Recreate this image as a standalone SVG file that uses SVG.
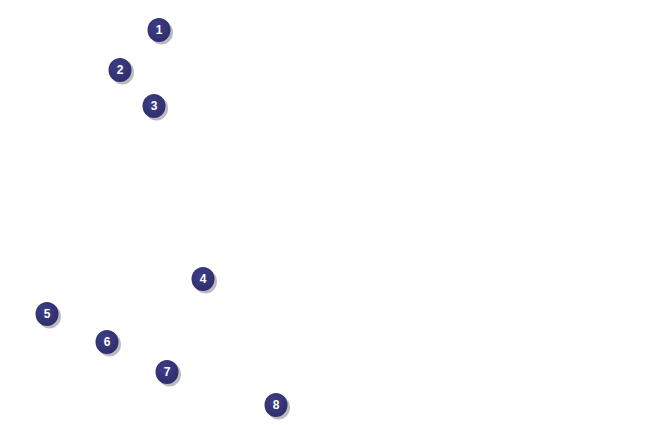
<svg xmlns="http://www.w3.org/2000/svg" width="650" height="425" viewBox="0 0 650 425">
<defs>
<radialGradient id="g" cx="0.4" cy="0.35" r="0.7">
<stop offset="0" stop-color="#3d3d85"/>
<stop offset="1" stop-color="#2e2e6c"/>
</radialGradient>
</defs>
<style>
.sh{fill:#a9a9b0;opacity:0.8}
.b{fill:url(#g)}
.t{fill:#ffffff;font-family:"Liberation Sans",Arial,sans-serif;font-weight:bold;font-size:12px;text-anchor:middle}
</style>
<rect width="650" height="425" fill="#ffffff"/>
<g id="connectors"></g>
<g id="n1"><ellipse class="sh" cx="161.5" cy="32.5" rx="11.5" ry="12"/><ellipse class="b" cx="159" cy="30" rx="11.5" ry="12"/><text class="t" x="159" y="34.3">1</text></g>
<g id="n2"><ellipse class="sh" cx="122.5" cy="72.5" rx="11.5" ry="12"/><ellipse class="b" cx="120" cy="70" rx="11.5" ry="12"/><text class="t" x="120" y="74.3">2</text></g>
<g id="n3"><ellipse class="sh" cx="156.5" cy="108.5" rx="11.5" ry="12"/><ellipse class="b" cx="154" cy="106" rx="11.5" ry="12"/><text class="t" x="154" y="110.3">3</text></g>
<g id="n4"><ellipse class="sh" cx="205.5" cy="281.5" rx="11.5" ry="12"/><ellipse class="b" cx="203" cy="279" rx="11.5" ry="12"/><text class="t" x="203" y="283.3">4</text></g>
<g id="n5"><ellipse class="sh" cx="49.5" cy="316.5" rx="11.5" ry="12"/><ellipse class="b" cx="47" cy="314" rx="11.5" ry="12"/><text class="t" x="47" y="318.3">5</text></g>
<g id="n6"><ellipse class="sh" cx="109.5" cy="344.5" rx="11.5" ry="12"/><ellipse class="b" cx="107" cy="342" rx="11.5" ry="12"/><text class="t" x="107" y="346.3">6</text></g>
<g id="n7"><ellipse class="sh" cx="169.5" cy="374.5" rx="11.5" ry="12"/><ellipse class="b" cx="167" cy="372" rx="11.5" ry="12"/><text class="t" x="167" y="376.3">7</text></g>
<g id="n8"><ellipse class="sh" cx="278.5" cy="407.5" rx="11.5" ry="12"/><ellipse class="b" cx="276" cy="405" rx="11.5" ry="12"/><text class="t" x="276" y="409.3">8</text></g>
</svg>
